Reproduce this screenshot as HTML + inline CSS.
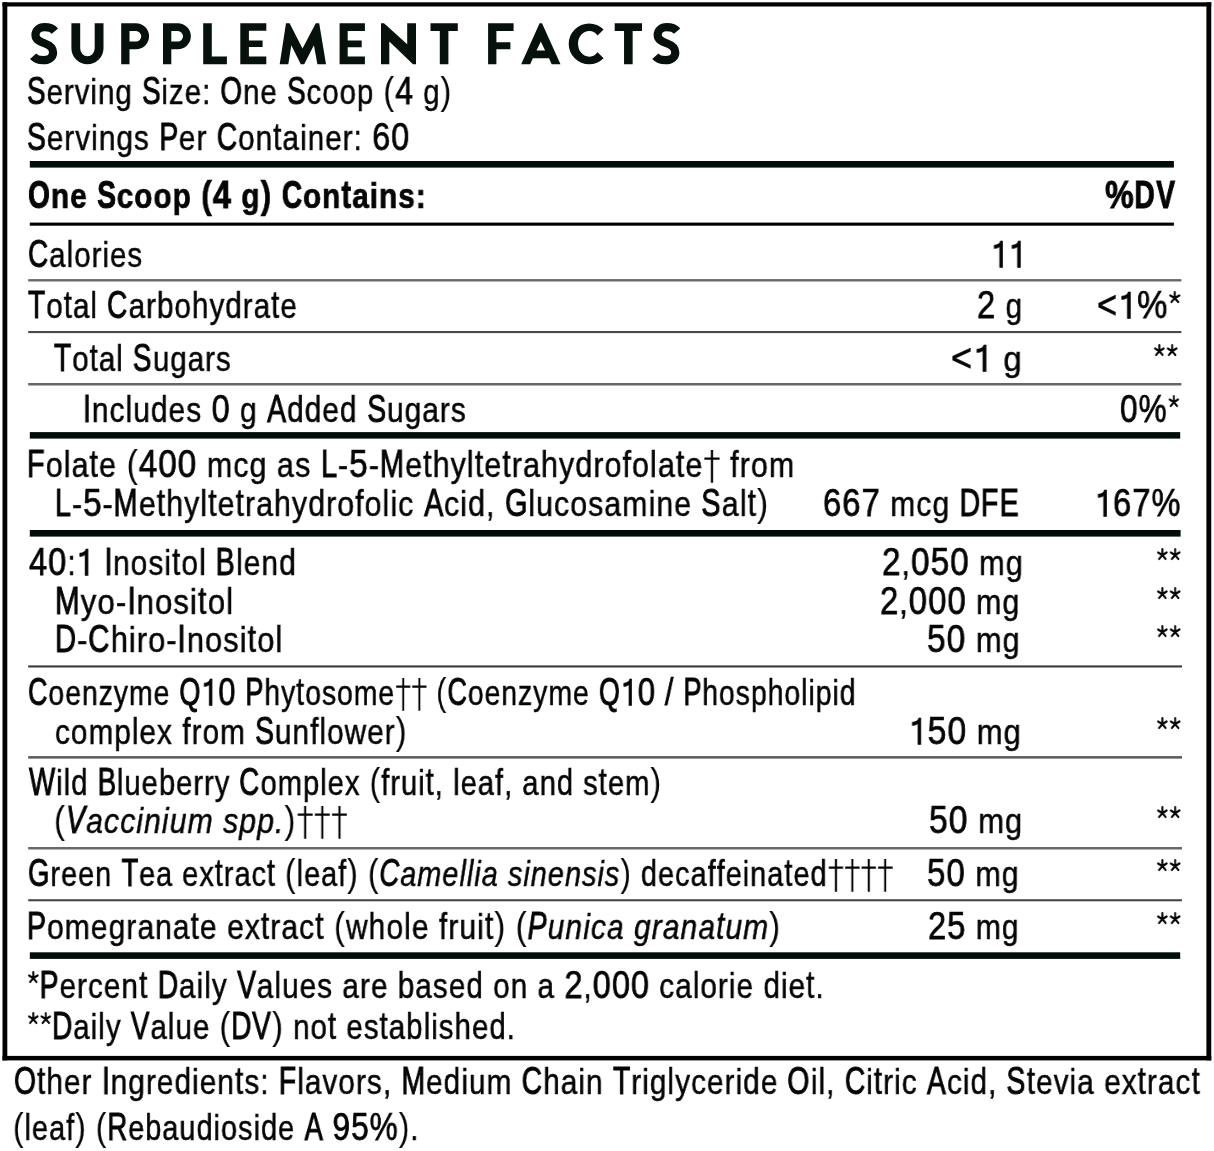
<!DOCTYPE html>
<html><head><meta charset="utf-8"><style>
html,body{margin:0;padding:0;background:#fff;}
body{width:1214px;height:1151px;position:relative;overflow:hidden;font-family:"Liberation Sans",sans-serif;color:#050505;}
.t{position:absolute;white-space:nowrap;line-height:40px;transform-origin:0 0;will-change:transform;-webkit-text-stroke:0.5px #050505;letter-spacing:0.035em;}
.b{font-weight:700;-webkit-text-stroke:0.7px #050505;}
.u{font-size:1.091em;-webkit-text-stroke-width:0.75px;}
.b .u{-webkit-text-stroke-width:0.9px;}
.it{font-style:italic;}
.a,.at{display:inline-block;transform:scaleY(1.045);transform-origin:50% 32.2px;}
.at{transform:scaleY(1.09);}
.r{position:absolute;}
.g1{display:inline-block;width:0.5562em;height:0.688em;vertical-align:baseline;overflow:visible;fill:currentColor;stroke:currentColor;stroke-width:35;}
.ga{display:inline-block;width:0.3892em;height:0.688em;vertical-align:baseline;overflow:visible;fill:none;stroke:currentColor;stroke-width:125;stroke-linecap:round;}
.gd{display:inline-block;width:0.5186em;height:0.852em;vertical-align:-0.1484em;overflow:visible;fill:currentColor;}
.cu{display:inline-block;transform:scaleX(0.870);transform-origin:0 0;-webkit-text-stroke-width:1.0px;}
.b .cu{-webkit-text-stroke-width:1.0px;}
.p{-webkit-text-stroke-width:0.1px;}
.b .p{-webkit-text-stroke-width:0.5px;}
.bl{display:inline-block;width:0;height:0;vertical-align:baseline;}
.tl{position:absolute;white-space:nowrap;line-height:1;transform-origin:0 0;font-weight:700;color:#06110c;-webkit-text-stroke:0.9px #06110c;}
</style></head><body>

<svg class="r" style="left:0;top:0" width="1214" height="1151" viewBox="0 0 1214 1151"><rect x="2.50" y="2.30" width="1208.75" height="4.20" fill="#000"/><rect x="2.50" y="1055.90" width="1208.75" height="4.50" fill="#000"/><rect x="2.50" y="2.30" width="4.80" height="1058.10" fill="#000"/><rect x="1206.40" y="2.30" width="4.85" height="1058.10" fill="#000"/><rect x="29.80" y="161.00" width="1144.10" height="6.60" fill="#020d09"/><rect x="29.80" y="222.60" width="1144.10" height="3.10" fill="#000"/><rect x="28.20" y="279.10" width="1153.20" height="2.40" fill="#686868"/><rect x="28.20" y="331.00" width="1153.20" height="2.10" fill="#4a4a4a"/><rect x="28.20" y="383.00" width="1153.20" height="2.50" fill="#666"/><rect x="29.80" y="432.10" width="1150.40" height="6.50" fill="#020d09"/><rect x="29.80" y="530.00" width="1150.80" height="6.60" fill="#020d09"/><rect x="28.20" y="665.40" width="1153.80" height="2.10" fill="#3a3a3a"/><rect x="28.20" y="756.10" width="1153.80" height="2.50" fill="#5a5a5a"/><rect x="28.20" y="847.00" width="1153.80" height="2.50" fill="#686868"/><rect x="28.20" y="899.20" width="1153.80" height="2.10" fill="#474747"/><rect x="29.80" y="952.30" width="1150.40" height="6.60" fill="#020d09"/><g fill="#06110c"><path transform="translate(0.00,0)" d="M54.9,31.1 C52.8,28.6 49.2,27.15 44.5,27.15 C39.3,27.15 35.5,30.2 35.5,35.0 C35.5,40.0 40.2,41.8 45,43.5 C49.8,45.2 53.1,47.6 53.1,52.5 C53.1,57.3 48.8,60.2 43.2,60.2 C38.8,60.2 35.4,58.9 33.1,56.3" fill="none" stroke="#06110c" stroke-width="8.2"/><path d="M71.4,23.2 H80.2 V48.25 A7.25,8.1 0 0 0 94.7,48.25 V23.2 H103.5 V48.25 A16.05,16.05 0 0 1 71.4,48.25 Z"/><path transform="translate(0.00,0)" d="M121.2,64.3 V23.2 H136.0 A13.05,13.05 0 0 1 136.0,49.3 H129.5 V64.3 Z M129.5,31.1 V41.6 H136.0 A5.25,5.25 0 0 0 136.0,31.1 Z" fill-rule="evenodd"/><path transform="translate(41.80,0)" d="M121.2,64.3 V23.2 H136.0 A13.05,13.05 0 0 1 136.0,49.3 H129.5 V64.3 Z M129.5,31.1 V41.6 H136.0 A5.25,5.25 0 0 0 136.0,31.1 Z" fill-rule="evenodd"/><path d="M203.2,23.3 H211.8 V56.6 H226.9 V64.3 H203.2 Z"/><path d="M240.3,23.2 H266.3 V30.7 H248.9 V40.6 H262.6 V47.0 H248.9 V56.5 H266.3 V64.3 H240.3 Z"/><path d="M279.7,64.3 L286.0,23.2 L289.6,23.2 L302.5,48.6 L315.8,23.2 L319.2,23.2 L326.0,64.3 L317.4,64.3 L313.9,45.2 L304.2,64.3 L300.8,64.3 L291.3,45.2 L288.3,64.3 Z"/><path d="M339.6,23.2 H364.9 V30.9 H347.7 V40.4 H361.7 V47.3 H347.7 V56.6 H364.9 V64.3 H339.6 Z"/><path d="M381.0,64.3 L381.0,23.2 L384.0,23.2 L407.2,44.3 L407.2,23.2 L416.0,23.2 L416.0,64.3 L413.0,64.3 L389.3,41.5 L389.3,64.3 Z"/><path d="M430.50,23.2 H457.80 V31.1 H448.40 V64.3 H439.80 V31.1 H430.50 Z"/><path d="M488.1,23.2 H513.6 V30.9 H496.4 V42.2 H510.4 V49.2 H496.4 V64.3 H488.1 Z"/><path d="M521.2,64.3 L539.6,23.2 L542.0,23.2 L560.5,64.3 L551.7,64.3 L549.0,58.2 L532.8,58.2 L530.2,64.3 Z M540.8,41.5 L536.5,50.5 L545.1,50.5 Z" fill-rule="evenodd"/><path d="M603.61,29.39 A20.45,20.45 0 1 0 603.61,58.31 L597.56,52.26 A11.15,12.8 0 1 1 597.56,35.44 Z"/><path d="M614.70,23.2 H642.00 V31.1 H632.65 V64.3 H624.05 V31.1 H614.70 Z"/><path transform="translate(622.20,0)" d="M54.9,31.1 C52.8,28.6 49.2,27.15 44.5,27.15 C39.3,27.15 35.5,30.2 35.5,35.0 C35.5,40.0 40.2,41.8 45,43.5 C49.8,45.2 53.1,47.6 53.1,52.5 C53.1,57.3 48.8,60.2 43.2,60.2 C38.8,60.2 35.4,58.9 33.1,56.3" fill="none" stroke="#06110c" stroke-width="8.2"/></g></svg>
<div class="t" id="I0" style="left:27.30px;top:71.01px;font-size:35.20px;transform:scaleX(0.8337)"><span class="u"><span class="cu" style="width:23.517px">S</span></span>erving <span class="u"><span class="cu" style="width:23.517px">S</span></span>ize: <span class="u"><span class="cu" style="width:27.220px">O</span></span>ne <span class="u"><span class="cu" style="width:23.517px">S</span></span>coop <span class="u"><span class="p">(</span>4</span> g<span class="u"><span class="p">)</span></span></div>
<div class="t" id="I1" style="left:27.28px;top:117.00px;font-size:35.20px;transform:scaleX(0.8435)"><span class="u"><span class="cu" style="width:23.517px">S</span></span>ervings <span class="u"><span class="cu" style="width:23.517px">P</span></span>er <span class="u"><span class="cu" style="width:25.360px">C</span></span>on<span class="at">t</span>ainer: <span class="u">60</span></div>
<div class="t b" id="I2" style="left:28.09px;top:175.01px;font-size:35.20px;transform:scaleX(0.8434)"><span class="u"><span class="cu" style="width:27.220px">O</span></span>ne <span class="u"><span class="cu" style="width:23.517px">S</span></span>coop <span class="u"><span class="p">(</span>4</span> g<span class="u"><span class="p">)</span></span> <span class="u"><span class="cu" style="width:25.360px">C</span></span>on<span class="at">t</span>ains:</div>
<div class="t b" id="I3" style="left:1104.81px;top:175.01px;font-size:35.20px;transform:scaleX(0.8401)"><span class="u">%<span class="cu" style="width:25.360px">D</span><span class="cu" style="width:23.517px">V</span></span></div>
<div class="t" id="I4" style="left:28.11px;top:234.01px;font-size:35.20px;transform:scaleX(0.8368)"><span class="u"><span class="cu" style="width:25.360px">C</span></span>a<span class="a">l</span>ories</div>
<div class="t" id="I5" style="left:990.56px;top:234.01px;font-size:35.20px;transform:scaleX(0.8510)"><span class="u"><svg class="g1" viewBox="0 -1409 1139 1409"><path d="M540,0 H720 V-1409 H590 C560,-1300 450,-1190 201,-1187 V-1013 C360,-1013 470,-1050 540,-1110 Z"/></svg><svg class="g1" viewBox="0 -1409 1139 1409"><path d="M540,0 H720 V-1409 H590 C560,-1300 450,-1190 201,-1187 V-1013 C360,-1013 470,-1050 540,-1110 Z"/></svg></span></div>
<div class="t" id="I6" style="left:28.00px;top:285.01px;font-size:35.20px;transform:scaleX(0.8404)"><span class="u"><span class="cu" style="width:21.641px">T</span></span>o<span class="at">t</span>a<span class="a">l</span> <span class="u"><span class="cu" style="width:25.360px">C</span></span>ar<span class="a">b</span>o<span class="a">h</span>y<span class="a">d</span>ra<span class="at">t</span>e</div>
<div class="t" id="I7" style="left:976.50px;top:285.01px;font-size:35.20px;transform:scaleX(0.8510)"><span class="u">2</span> g</div>
<div class="t" id="I8" style="left:1097.22px;top:285.01px;font-size:35.20px;transform:scaleX(0.8892)"><span class="u">&lt;<svg class="g1" viewBox="0 -1409 1139 1409"><path d="M540,0 H720 V-1409 H590 C560,-1300 450,-1190 201,-1187 V-1013 C360,-1013 470,-1050 540,-1110 Z"/></svg>%<svg class="ga" viewBox="0 -1409 797 1409"><path d="M398,-1080 v-320 M398,-1080 l270,-139 M398,-1080 l-270,-139 M398,-1080 l204,205 M398,-1080 l-204,205"/></svg></span></div>
<div class="t" id="I9" style="left:54.41px;top:338.01px;font-size:35.20px;transform:scaleX(0.8381)"><span class="u"><span class="cu" style="width:21.641px">T</span></span>o<span class="at">t</span>a<span class="a">l</span> <span class="u"><span class="cu" style="width:23.517px">S</span></span>ugars</div>
<div class="t" id="I10" style="left:950.95px;top:338.01px;font-size:35.20px;transform:scaleX(0.9347)"><span class="u">&lt;<svg class="g1" viewBox="0 -1409 1139 1409"><path d="M540,0 H720 V-1409 H590 C560,-1300 450,-1190 201,-1187 V-1013 C360,-1013 470,-1050 540,-1110 Z"/></svg></span> g</div>
<div class="t" id="I11" style="left:1153.42px;top:338.01px;font-size:35.20px;transform:scaleX(0.8510)"><span class="u"><svg class="ga" viewBox="0 -1409 797 1409"><path d="M398,-1080 v-320 M398,-1080 l270,-139 M398,-1080 l-270,-139 M398,-1080 l204,205 M398,-1080 l-204,205"/></svg><svg class="ga" viewBox="0 -1409 797 1409"><path d="M398,-1080 v-320 M398,-1080 l270,-139 M398,-1080 l-270,-139 M398,-1080 l204,205 M398,-1080 l-204,205"/></svg></span></div>
<div class="t" id="I12" style="left:83.30px;top:389.01px;font-size:35.20px;transform:scaleX(0.8486)"><span class="u"><span class="cu" style="width:10.515px">I</span></span>nc<span class="a">l</span>u<span class="a">d</span>es <span class="u">0</span> g <span class="u"><span class="cu" style="width:23.517px">A</span></span><span class="a">d</span><span class="a">d</span>e<span class="a">d</span> <span class="u"><span class="cu" style="width:23.517px">S</span></span>ugars</div>
<div class="t" id="I13" style="left:1120.14px;top:389.01px;font-size:35.20px;transform:scaleX(0.8228)"><span class="u">0%<svg class="ga" viewBox="0 -1409 797 1409"><path d="M398,-1080 v-320 M398,-1080 l270,-139 M398,-1080 l-270,-139 M398,-1080 l204,205 M398,-1080 l-204,205"/></svg></span></div>
<div class="t" id="I14" style="left:27.08px;top:444.00px;font-size:35.20px;transform:scaleX(0.8649)"><span class="u"><span class="cu" style="width:21.641px">F</span></span>o<span class="a">l</span>a<span class="at">t</span>e <span class="u"><span class="p">(</span>400</span> mcg as <span class="u"><span class="cu" style="width:19.813px">L</span></span>-<span class="u">5</span>-<span class="u"><span class="cu" style="width:29.063px">M</span></span>e<span class="at">t</span><span class="a">h</span>y<span class="a">l</span><span class="at">t</span>e<span class="at">t</span>ra<span class="a">h</span>y<span class="a">d</span>ro<span class="a">f</span>o<span class="a">l</span>a<span class="at">t</span>e<span class="u"><svg class="gd" viewBox="0 -1441 1062 1745"><path d="M464,-1441 H598 V304 H464 Z M65,-1036 H996 V-919 H65 Z"/></svg></span> <span class="a">f</span>rom</div>
<div class="t" id="I15" style="left:54.87px;top:483.00px;font-size:35.20px;transform:scaleX(0.8606)"><span class="u"><span class="cu" style="width:19.813px">L</span></span>-<span class="u">5</span>-<span class="u"><span class="cu" style="width:29.063px">M</span></span>e<span class="at">t</span><span class="a">h</span>y<span class="a">l</span><span class="at">t</span>e<span class="at">t</span>ra<span class="a">h</span>y<span class="a">d</span>ro<span class="a">f</span>o<span class="a">l</span>ic <span class="u"><span class="cu" style="width:23.517px">A</span></span>ci<span class="a">d</span>, <span class="u"><span class="cu" style="width:27.220px">G</span></span><span class="a">l</span>ucosamine <span class="u"><span class="cu" style="width:23.517px">S</span></span>a<span class="a">l</span><span class="at">t</span><span class="u"><span class="p">)</span></span></div>
<div class="t" id="I16" style="left:823.27px;top:483.00px;font-size:35.20px;transform:scaleX(0.8537)"><span class="u">667</span> mcg <span class="u"><span class="cu" style="width:25.360px">D</span><span class="cu" style="width:21.641px">F</span><span class="cu" style="width:23.517px">E</span></span></div>
<div class="t" id="I17" style="left:1095.36px;top:483.00px;font-size:35.20px;transform:scaleX(0.8483)"><span class="u"><svg class="g1" viewBox="0 -1409 1139 1409"><path d="M540,0 H720 V-1409 H590 C560,-1300 450,-1190 201,-1187 V-1013 C360,-1013 470,-1050 540,-1110 Z"/></svg>67%</span></div>
<div class="t" id="I18" style="left:29.00px;top:542.00px;font-size:35.20px;transform:scaleX(0.8488)"><span class="u">40</span>:<span class="u"><svg class="g1" viewBox="0 -1409 1139 1409"><path d="M540,0 H720 V-1409 H590 C560,-1300 450,-1190 201,-1187 V-1013 C360,-1013 470,-1050 540,-1110 Z"/></svg></span> <span class="u"><span class="cu" style="width:10.515px">I</span></span>nosi<span class="at">t</span>o<span class="a">l</span> <span class="u"><span class="cu" style="width:23.517px">B</span></span><span class="a">l</span>en<span class="a">d</span></div>
<div class="t" id="I19" style="left:882.25px;top:542.00px;font-size:35.20px;transform:scaleX(0.8656)"><span class="u">2</span>,<span class="u">050</span> mg</div>
<div class="t" id="I20" style="left:1155.83px;top:542.00px;font-size:35.20px;transform:scaleX(0.8510)"><span class="u"><svg class="ga" viewBox="0 -1409 797 1409"><path d="M398,-1080 v-320 M398,-1080 l270,-139 M398,-1080 l-270,-139 M398,-1080 l204,205 M398,-1080 l-204,205"/></svg><svg class="ga" viewBox="0 -1409 797 1409"><path d="M398,-1080 v-320 M398,-1080 l270,-139 M398,-1080 l-270,-139 M398,-1080 l204,205 M398,-1080 l-204,205"/></svg></span></div>
<div class="t" id="I21" style="left:55.03px;top:581.01px;font-size:35.20px;transform:scaleX(0.8847)"><span class="u"><span class="cu" style="width:29.063px">M</span></span>yo-<span class="u"><span class="cu" style="width:10.515px">I</span></span>nosi<span class="at">t</span>o<span class="a">l</span></div>
<div class="t" id="I22" style="left:880.24px;top:581.01px;font-size:35.20px;transform:scaleX(0.8563)"><span class="u">2</span>,<span class="u">000</span> mg</div>
<div class="t" id="I23" style="left:1155.83px;top:581.01px;font-size:35.20px;transform:scaleX(0.8510)"><span class="u"><svg class="ga" viewBox="0 -1409 797 1409"><path d="M398,-1080 v-320 M398,-1080 l270,-139 M398,-1080 l-270,-139 M398,-1080 l204,205 M398,-1080 l-204,205"/></svg><svg class="ga" viewBox="0 -1409 797 1409"><path d="M398,-1080 v-320 M398,-1080 l270,-139 M398,-1080 l-270,-139 M398,-1080 l204,205 M398,-1080 l-204,205"/></svg></span></div>
<div class="t" id="I24" style="left:55.06px;top:619.01px;font-size:35.20px;transform:scaleX(0.8746)"><span class="u"><span class="cu" style="width:25.360px">D</span></span>-<span class="u"><span class="cu" style="width:25.360px">C</span></span><span class="a">h</span>iro-<span class="u"><span class="cu" style="width:10.515px">I</span></span>nosi<span class="at">t</span>o<span class="a">l</span></div>
<div class="t" id="I25" style="left:927.41px;top:619.01px;font-size:35.20px;transform:scaleX(0.8710)"><span class="u">50</span> mg</div>
<div class="t" id="I26" style="left:1155.83px;top:619.01px;font-size:35.20px;transform:scaleX(0.8510)"><span class="u"><svg class="ga" viewBox="0 -1409 797 1409"><path d="M398,-1080 v-320 M398,-1080 l270,-139 M398,-1080 l-270,-139 M398,-1080 l204,205 M398,-1080 l-204,205"/></svg><svg class="ga" viewBox="0 -1409 797 1409"><path d="M398,-1080 v-320 M398,-1080 l270,-139 M398,-1080 l-270,-139 M398,-1080 l204,205 M398,-1080 l-204,205"/></svg></span></div>
<div class="t" id="I27" style="left:28.11px;top:672.00px;font-size:35.20px;transform:scaleX(0.8053)"><span class="u"><span class="cu" style="width:25.360px">C</span></span>oenzyme <span class="u"><span class="cu" style="width:27.220px">Q</span><svg class="g1" viewBox="0 -1409 1139 1409"><path d="M540,0 H720 V-1409 H590 C560,-1300 450,-1190 201,-1187 V-1013 C360,-1013 470,-1050 540,-1110 Z"/></svg>0</span> <span class="u"><span class="cu" style="width:23.517px">P</span></span><span class="a">h</span>y<span class="at">t</span>osome<span class="u"><svg class="gd" viewBox="0 -1441 1062 1745"><path d="M464,-1441 H598 V304 H464 Z M65,-1036 H996 V-919 H65 Z"/></svg><svg class="gd" viewBox="0 -1441 1062 1745"><path d="M464,-1441 H598 V304 H464 Z M65,-1036 H996 V-919 H65 Z"/></svg></span> <span class="u"><span class="p">(</span><span class="cu" style="width:25.360px">C</span></span>oenzyme <span class="u"><span class="cu" style="width:27.220px">Q</span><svg class="g1" viewBox="0 -1409 1139 1409"><path d="M540,0 H720 V-1409 H590 C560,-1300 450,-1190 201,-1187 V-1013 C360,-1013 470,-1050 540,-1110 Z"/></svg>0</span> <span class="u">/</span> <span class="u"><span class="cu" style="width:23.517px">P</span></span><span class="a">h</span>osp<span class="a">h</span>o<span class="a">l</span>ipi<span class="a">d</span></div>
<div class="t" id="I28" style="left:54.84px;top:711.01px;font-size:35.20px;transform:scaleX(0.8444)">comp<span class="a">l</span>ex <span class="a">f</span>rom <span class="u"><span class="cu" style="width:23.517px">S</span></span>un<span class="a">f</span><span class="a">l</span>ower<span class="u"><span class="p">)</span></span></div>
<div class="t" id="I29" style="left:908.69px;top:711.01px;font-size:35.20px;transform:scaleX(0.8755)"><span class="u"><svg class="g1" viewBox="0 -1409 1139 1409"><path d="M540,0 H720 V-1409 H590 C560,-1300 450,-1190 201,-1187 V-1013 C360,-1013 470,-1050 540,-1110 Z"/></svg>50</span> mg</div>
<div class="t" id="I30" style="left:1155.83px;top:711.01px;font-size:35.20px;transform:scaleX(0.8510)"><span class="u"><svg class="ga" viewBox="0 -1409 797 1409"><path d="M398,-1080 v-320 M398,-1080 l270,-139 M398,-1080 l-270,-139 M398,-1080 l204,205 M398,-1080 l-204,205"/></svg><svg class="ga" viewBox="0 -1409 797 1409"><path d="M398,-1080 v-320 M398,-1080 l270,-139 M398,-1080 l-270,-139 M398,-1080 l204,205 M398,-1080 l-204,205"/></svg></span></div>
<div class="t" id="I31" style="left:29.00px;top:762.01px;font-size:35.20px;transform:scaleX(0.8277)"><span class="u"><span class="cu" style="width:32.767px">W</span></span>i<span class="a">l</span><span class="a">d</span> <span class="u"><span class="cu" style="width:23.517px">B</span></span><span class="a">l</span>ue<span class="a">b</span>erry <span class="u"><span class="cu" style="width:25.360px">C</span></span>omp<span class="a">l</span>ex <span class="u"><span class="p">(</span></span><span class="a">f</span>rui<span class="at">t</span>, <span class="a">l</span>ea<span class="a">f</span>, an<span class="a">d</span> s<span class="at">t</span>em<span class="u"><span class="p">)</span></span></div>
<div class="t" id="I32" style="left:54.09px;top:800.00px;font-size:35.20px;transform:scaleX(0.8574)"><span class="u"><span class="p">(</span></span><span class="u it"><span class="cu" style="width:23.517px">V</span></span><span class="it">accinium spp.</span><span class="u"><span class="p">)</span><svg class="gd" viewBox="0 -1441 1062 1745"><path d="M464,-1441 H598 V304 H464 Z M65,-1036 H996 V-919 H65 Z"/></svg><svg class="gd" viewBox="0 -1441 1062 1745"><path d="M464,-1441 H598 V304 H464 Z M65,-1036 H996 V-919 H65 Z"/></svg><svg class="gd" viewBox="0 -1441 1062 1745"><path d="M464,-1441 H598 V304 H464 Z M65,-1036 H996 V-919 H65 Z"/></svg></span></div>
<div class="t" id="I33" style="left:929.22px;top:800.00px;font-size:35.20px;transform:scaleX(0.8758)"><span class="u">50</span> mg</div>
<div class="t" id="I34" style="left:1155.83px;top:800.00px;font-size:35.20px;transform:scaleX(0.8510)"><span class="u"><svg class="ga" viewBox="0 -1409 797 1409"><path d="M398,-1080 v-320 M398,-1080 l270,-139 M398,-1080 l-270,-139 M398,-1080 l204,205 M398,-1080 l-204,205"/></svg><svg class="ga" viewBox="0 -1409 797 1409"><path d="M398,-1080 v-320 M398,-1080 l270,-139 M398,-1080 l-270,-139 M398,-1080 l204,205 M398,-1080 l-204,205"/></svg></span></div>
<div class="t" id="I35" style="left:28.09px;top:853.01px;font-size:35.20px;transform:scaleX(0.8211)"><span class="u"><span class="cu" style="width:27.220px">G</span></span>reen <span class="u"><span class="cu" style="width:21.641px">T</span></span>ea ex<span class="at">t</span>rac<span class="at">t</span> <span class="u"><span class="p">(</span></span><span class="a">l</span>ea<span class="a">f</span><span class="u"><span class="p">)</span></span> <span class="u"><span class="p">(</span></span><span class="u it"><span class="cu" style="width:25.360px">C</span></span><span class="it">ame</span><span class="a it">l</span><span class="a it">l</span><span class="it">ia sinensis</span><span class="u"><span class="p">)</span></span> <span class="a">d</span>eca<span class="a">f</span><span class="a">f</span>eina<span class="at">t</span>e<span class="a">d</span><span class="u"><svg class="gd" viewBox="0 -1441 1062 1745"><path d="M464,-1441 H598 V304 H464 Z M65,-1036 H996 V-919 H65 Z"/></svg><svg class="gd" viewBox="0 -1441 1062 1745"><path d="M464,-1441 H598 V304 H464 Z M65,-1036 H996 V-919 H65 Z"/></svg><svg class="gd" viewBox="0 -1441 1062 1745"><path d="M464,-1441 H598 V304 H464 Z M65,-1036 H996 V-919 H65 Z"/></svg><svg class="gd" viewBox="0 -1441 1062 1745"><path d="M464,-1441 H598 V304 H464 Z M65,-1036 H996 V-919 H65 Z"/></svg></span></div>
<div class="t" id="I36" style="left:927.42px;top:853.01px;font-size:35.20px;transform:scaleX(0.8614)"><span class="u">50</span> mg</div>
<div class="t" id="I37" style="left:1155.83px;top:853.01px;font-size:35.20px;transform:scaleX(0.8510)"><span class="u"><svg class="ga" viewBox="0 -1409 797 1409"><path d="M398,-1080 v-320 M398,-1080 l270,-139 M398,-1080 l-270,-139 M398,-1080 l204,205 M398,-1080 l-204,205"/></svg><svg class="ga" viewBox="0 -1409 797 1409"><path d="M398,-1080 v-320 M398,-1080 l270,-139 M398,-1080 l-270,-139 M398,-1080 l204,205 M398,-1080 l-204,205"/></svg></span></div>
<div class="t" id="I38" style="left:27.10px;top:906.01px;font-size:35.20px;transform:scaleX(0.8528)"><span class="u"><span class="cu" style="width:23.517px">P</span></span>omegrana<span class="at">t</span>e ex<span class="at">t</span>rac<span class="at">t</span> <span class="u"><span class="p">(</span></span>w<span class="a">h</span>o<span class="a">l</span>e <span class="a">f</span>rui<span class="at">t</span><span class="u"><span class="p">)</span></span> <span class="u"><span class="p">(</span></span><span class="u it"><span class="cu" style="width:23.517px">P</span></span><span class="it">unica grana</span><span class="at it">t</span><span class="it">um</span><span class="u"><span class="p">)</span></span></div>
<div class="t" id="I39" style="left:928.12px;top:906.01px;font-size:35.20px;transform:scaleX(0.8510)"><span class="u">25</span> mg</div>
<div class="t" id="I40" style="left:1155.83px;top:906.01px;font-size:35.20px;transform:scaleX(0.8510)"><span class="u"><svg class="ga" viewBox="0 -1409 797 1409"><path d="M398,-1080 v-320 M398,-1080 l270,-139 M398,-1080 l-270,-139 M398,-1080 l204,205 M398,-1080 l-204,205"/></svg><svg class="ga" viewBox="0 -1409 797 1409"><path d="M398,-1080 v-320 M398,-1080 l270,-139 M398,-1080 l-270,-139 M398,-1080 l204,205 M398,-1080 l-204,205"/></svg></span></div>
<div class="t" id="I41" style="left:27.44px;top:965.00px;font-size:35.20px;transform:scaleX(0.8441)"><span class="u"><svg class="ga" viewBox="0 -1409 797 1409"><path d="M398,-1080 v-320 M398,-1080 l270,-139 M398,-1080 l-270,-139 M398,-1080 l204,205 M398,-1080 l-204,205"/></svg><span class="cu" style="width:23.517px">P</span></span>ercen<span class="at">t</span> <span class="u"><span class="cu" style="width:25.360px">D</span></span>ai<span class="a">l</span>y <span class="u"><span class="cu" style="width:23.517px">V</span></span>a<span class="a">l</span>ues are <span class="a">b</span>ase<span class="a">d</span> on a <span class="u">2</span>,<span class="u">000</span> ca<span class="a">l</span>orie <span class="a">d</span>ie<span class="at">t</span>.</div>
<div class="t" id="I42" style="left:27.44px;top:1006.00px;font-size:35.20px;transform:scaleX(0.8369)"><span class="u"><svg class="ga" viewBox="0 -1409 797 1409"><path d="M398,-1080 v-320 M398,-1080 l270,-139 M398,-1080 l-270,-139 M398,-1080 l204,205 M398,-1080 l-204,205"/></svg><svg class="ga" viewBox="0 -1409 797 1409"><path d="M398,-1080 v-320 M398,-1080 l270,-139 M398,-1080 l-270,-139 M398,-1080 l204,205 M398,-1080 l-204,205"/></svg><span class="cu" style="width:25.360px">D</span></span>ai<span class="a">l</span>y <span class="u"><span class="cu" style="width:23.517px">V</span></span>a<span class="a">l</span>ue <span class="u"><span class="p">(</span><span class="cu" style="width:25.360px">D</span><span class="cu" style="width:23.517px">V</span><span class="p">)</span></span> no<span class="at">t</span> es<span class="at">t</span>a<span class="a">b</span><span class="a">l</span>is<span class="a">h</span>e<span class="a">d</span>.</div>
<div class="t" id="I43" style="left:13.84px;top:1061.00px;font-size:35.20px;transform:scaleX(0.8461)"><span class="u"><span class="cu" style="width:27.220px">O</span></span><span class="at">t</span><span class="a">h</span>er <span class="u"><span class="cu" style="width:10.515px">I</span></span>ngre<span class="a">d</span>ien<span class="at">t</span>s: <span class="u"><span class="cu" style="width:21.641px">F</span></span><span class="a">l</span>avors, <span class="u"><span class="cu" style="width:29.063px">M</span></span>e<span class="a">d</span>ium <span class="u"><span class="cu" style="width:25.360px">C</span></span><span class="a">h</span>ain <span class="u"><span class="cu" style="width:21.641px">T</span></span>rig<span class="a">l</span>yceri<span class="a">d</span>e <span class="u"><span class="cu" style="width:27.220px">O</span></span>i<span class="a">l</span>, <span class="u"><span class="cu" style="width:25.360px">C</span></span>i<span class="at">t</span>ric <span class="u"><span class="cu" style="width:23.517px">A</span></span>ci<span class="a">d</span>, <span class="u"><span class="cu" style="width:23.517px">S</span></span><span class="at">t</span>evia ex<span class="at">t</span>rac<span class="at">t</span></div>
<div class="t" id="I44" style="left:12.95px;top:1107.00px;font-size:35.20px;transform:scaleX(0.8213)"><span class="u"><span class="p">(</span></span><span class="a">l</span>ea<span class="a">f</span><span class="u"><span class="p">)</span></span> <span class="u"><span class="p">(</span><span class="cu" style="width:25.360px">R</span></span>e<span class="a">b</span>au<span class="a">d</span>iosi<span class="a">d</span>e <span class="u"><span class="cu" style="width:23.517px">A</span></span> <span class="u">95%<span class="p">)</span></span>.</div>
</body></html>
